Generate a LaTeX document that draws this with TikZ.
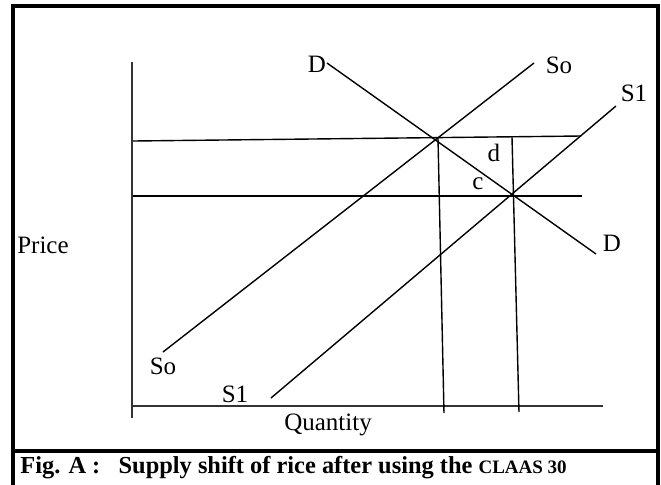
\documentclass[tikz,border=0pt]{standalone}
\usepackage{fontspec}
\setmainfont{Liberation Serif}
\begin{document}
\begin{tikzpicture}[x=0.5pt,y=-0.5pt,
  frame/.style={line width=1.6pt,black},
  axis/.style={line width=1pt,black!80},
  curve/.style={line width=0.7pt,black},
  lbl/.style={font=\fontsize{12.5}{14}\selectfont,inner sep=0pt},
  captext/.style={font=\bfseries\fontsize{12.2}{14}\selectfont,inner sep=0pt,anchor=base west}]
\useasboundingbox (0,0) rectangle (661,484);
% frame
\coordinate (fTL) at (13,6);
\coordinate (fBR) at (658,500);
\draw[frame] (fTL) rectangle (fBR);
\coordinate (sepL) at (13,451);
\coordinate (sepR) at (658,451);
\draw[frame] (sepL) -- (sepR);
% axes
\coordinate (yTop) at (132,62);
\coordinate (yBot) at (132,418);
\coordinate (xL) at (132,406);
\coordinate (xR) at (603,406);
\draw[axis] (yTop) -- (yBot);
\draw[axis] (xL) -- (xR);
% price lines
\coordinate (p1L) at (133,141);
\coordinate (p1R) at (581,136);
\coordinate (p2L) at (133,196);
\coordinate (p2R) at (582,196);
\draw[curve] (p1L) -- (p1R);
\draw[curve] (p2L) -- (p2R);
% D
\coordinate (dA) at (327,63);
\coordinate (dB) at (596,254);
\draw[curve] (dA) -- (dB);
% So
\coordinate (s0A) at (163,352);
\coordinate (s0B) at (534,63);
\draw[curve] (s0A) -- (s0B);
% S1
\coordinate (s1A) at (271,398);
\coordinate (s1B) at (616,106);
\draw[curve] (s1A) -- (s1B);
% quantity verticals
\coordinate (q1T) at (438,138);
\coordinate (q1B) at (444,413);
\coordinate (q2T) at (512,137);
\coordinate (q2B) at (519,412);
\draw[curve] (q1T) -- (q1B);
\draw[curve] (q2T) -- (q2B);
% labels
\node[lbl] (lD1) at (317,64) {D};
\node[lbl] (lD2) at (612,243) {D};
\node[lbl] (lS0a) at (559,65) {So};
\node[lbl] (lS0b) at (163,366) {So};
\node[lbl] (lS1a) at (634,93) {S1};
\node[lbl] (lS1b) at (235,394) {S1};
\node[lbl] (ld) at (494,153) {d};
\node[lbl] (lc) at (478,184) {c};
\node[lbl] (lP) at (43,245) {Price};
\node[lbl] (lQ) at (328,425) {Quantity};
\node[captext] (caption) at (20,473) {Fig. A :\hspace{0.75em}Supply shift of rice after using the {\fontsize{9.5}{12}\selectfont CLAAS 30}};
\end{tikzpicture}
\end{document}
